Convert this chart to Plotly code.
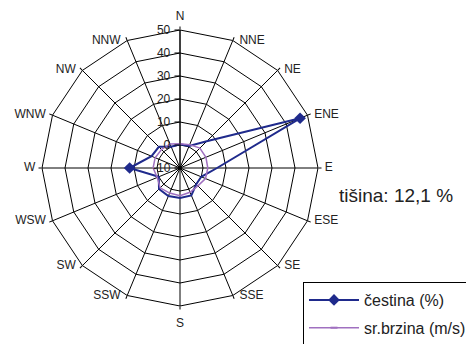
import plotly.graph_objects as go

# Wind directions (16-point compass), clockwise from north
directions = ["N", "NNE", "NE", "ENE", "E", "ESE", "SE", "SSE",
              "S", "SSW", "SW", "WSW", "W", "WNW", "NW", "NNW"]

# Frequency of each direction (%)
cestina = [0.3, 0.4, 6.4, 46.5, 6.1, 0.0, 0.0, 2.9,
           3.0, 3.2, 2.9, 0.0, 11.9, 3.4, 3.0, 0.0]

# Mean wind speed per direction (m/s)
sr_brzina = [0.5, 1.0, 2.2, 2.2, 2.1, 2.0, 1.0, 1.4,
             2.1, 1.8, 2.2, 0.7, 1.7, 1.7, 1.4, 1.3]

calm_text = "tišina: 12,1 %"

radial_ticks = [-10, 0, 10, 20, 30, 40, 50]
r_min, r_max = -10, 50

FONT = "Liberation Sans, Arial, sans-serif"
TEXT = "#222222"
BLUE = "#1f2a8c"
PURPLE = "#a070c0"


def closed(values):
    return list(values) + [values[0]]


fig = go.Figure()

fig.add_trace(go.Scatterpolar(
    r=closed(cestina),
    theta=closed(directions),
    mode="lines+markers",
    name="čestina (%)",
    legendgroup="a",
    line=dict(color=BLUE, width=2),
    marker=dict(symbol="diamond", size=9, color=BLUE),
))

fig.add_trace(go.Scatterpolar(
    r=closed(sr_brzina),
    theta=closed(directions),
    mode="lines+markers",
    name="sr.brzina (m/s)",
    legendgroup="b",
    line=dict(color=PURPLE, width=1.5),
    marker=dict(symbol="line-ew", size=5, color=PURPLE,
                line=dict(color=PURPLE, width=2)),
))

# Compass labels beside the outer ring: left-aligned on the east side,
# right-aligned on the west side, above N and below S.
side_dirs, side_pos = [], []
for i, d in enumerate(directions):
    if i in (0, 8):
        continue
    side_dirs.append(d)
    side_pos.append("middle right" if i < 8 else "middle left")

fig.add_trace(go.Scatterpolar(
    r=[r_max] * len(side_dirs),
    theta=side_dirs,
    mode="markers+text",
    text=side_dirs,
    textposition=side_pos,
    textfont=dict(family=FONT, size=12, color=TEXT),
    marker=dict(size=9, opacity=0),
    hoverinfo="skip",
    showlegend=False,
    cliponaxis=False,
))

fig.add_trace(go.Scatterpolar(
    r=[r_max, r_max],
    theta=[directions[0], directions[8]],
    mode="markers+text",
    text=[directions[0], directions[8]],
    textposition=["top center", "bottom center"],
    textfont=dict(family=FONT, size=12, color=TEXT),
    marker=dict(size=[10, 18], opacity=0),
    hoverinfo="skip",
    showlegend=False,
    cliponaxis=False,
))

fig.update_layout(
    width=466,
    height=344,
    margin=dict(l=0, r=0, t=0, b=0, autoexpand=False),
    paper_bgcolor="white",
    plot_bgcolor="white",
    font=dict(family=FONT, size=11, color=TEXT),
    polar=dict(
        domain=dict(x=[42 / 466, 318 / 466], y=[1 - 306 / 344, 1 - 30 / 344]),
        bgcolor="white",
        gridshape="linear",
        angularaxis=dict(
            direction="clockwise",
            rotation=90,
            type="category",
            categoryorder="array",
            categoryarray=directions,
            showline=True,
            linecolor="black",
            linewidth=1,
            gridcolor="black",
            gridwidth=1,
            ticks="outside",
            ticklen=3,
            tickcolor="black",
            showticklabels=False,
        ),
        radialaxis=dict(
            range=[r_min, r_max],
            tickvals=radial_ticks,
            ticktext=[str(v) for v in radial_ticks],
            angle=90,
            tickangle=90,
            side="counterclockwise",
            showline=True,
            linecolor="black",
            linewidth=1,
            gridcolor="black",
            gridwidth=1,
            ticks="outside",
            ticklen=5,
            tickcolor="black",
            tickfont=dict(family=FONT, size=12, color=TEXT),
        ),
    ),
    legend=dict(
        x=303 / 466,
        y=1 - 282 / 344,
        xanchor="left",
        yanchor="top",
        bgcolor="white",
        bordercolor="black",
        borderwidth=1,
        traceorder="grouped",
        tracegroupgap=4,
        itemwidth=50,
        font=dict(family=FONT, size=16, color=TEXT),
    ),
    annotations=[dict(
        text=calm_text,
        x=396 / 466,
        y=1 - 195 / 344,
        xref="paper",
        yref="paper",
        xanchor="center",
        yanchor="middle",
        showarrow=False,
        font=dict(family=FONT, size=19, color=TEXT),
    )],
)

fig.write_html("out.html")
